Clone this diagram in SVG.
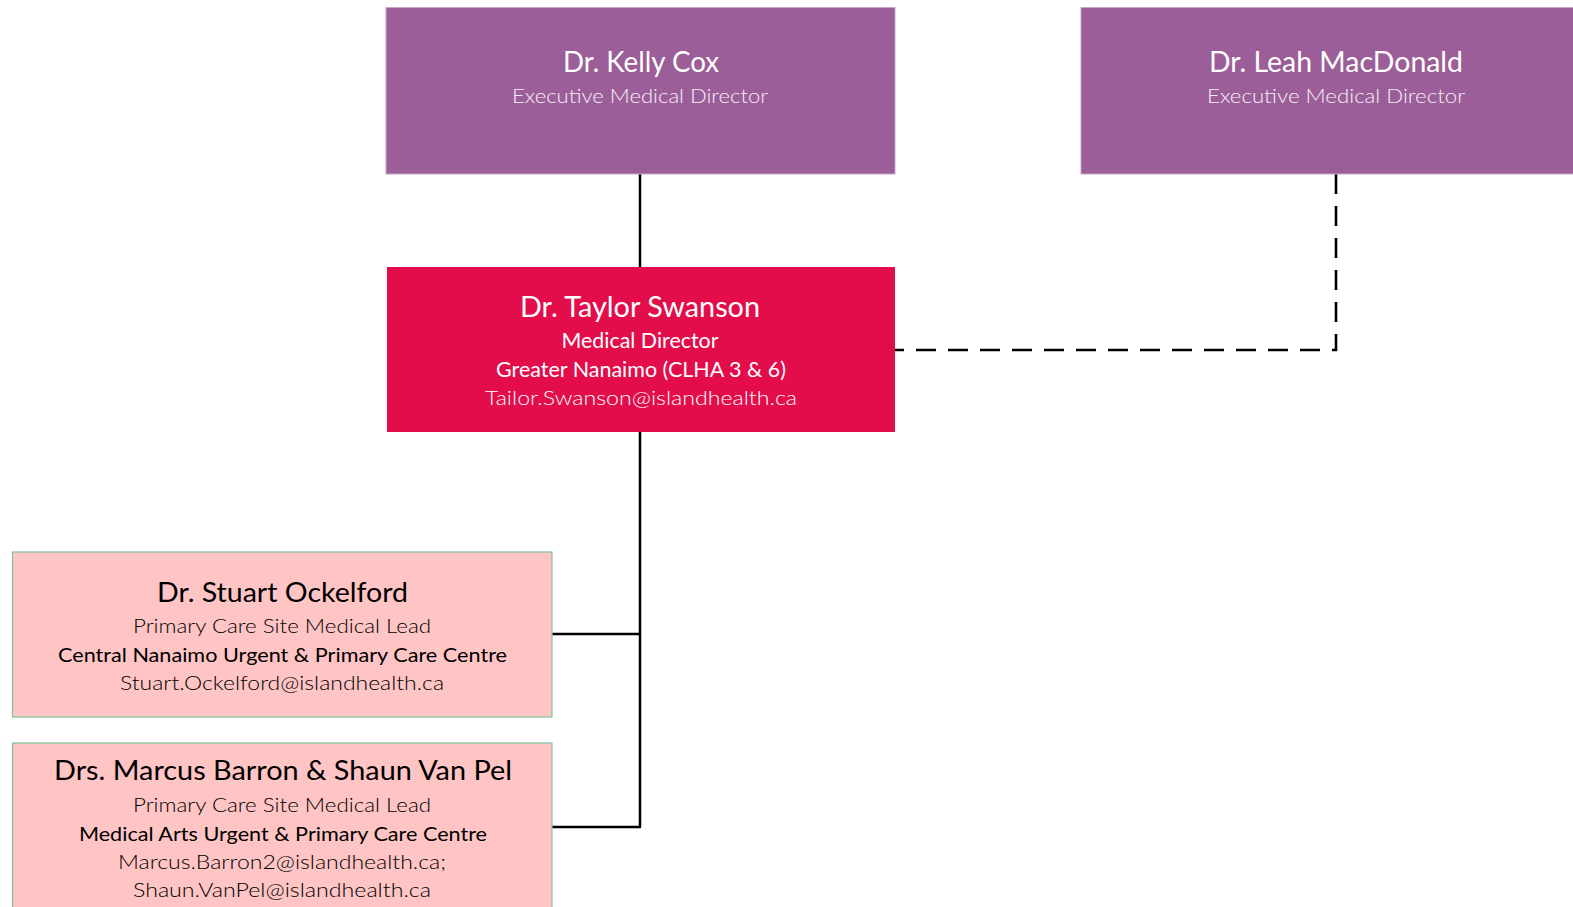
<svg xmlns="http://www.w3.org/2000/svg" width="1573" height="907" viewBox="0 0 1573 907">
<style>
  .exec { fill: #9B5E98; stroke: #C8A6C6; stroke-width: 1; }
  .md { fill: #E30D4C; }
  .lead { fill: #FFC4C4; stroke: #7DC49B; stroke-width: 1.2; }
  text { font-family: Lato, "Open Sans", "Liberation Sans", sans-serif; text-anchor: middle; }
  .w { fill: #FFFFFF; }
  .wl { fill: #F8EEF7; font-weight: 300; }
  .b { fill: #000000; }
  .bl { fill: #000000; font-weight: 300; }
  .solid { fill: none; stroke: #000; stroke-width: 2.5; }
  .dash { fill: none; stroke: #000; stroke-width: 2.6; stroke-dasharray: 20 12; }
</style>
<rect width="1573" height="907" fill="#FFFFFF"/>
<g id="connectors">
  <path class="solid" d="M640 174 V267"/>
  <path class="solid" d="M640 432 V827"/>
  <path class="solid" d="M552 634 H641"/>
  <path class="solid" d="M552 827 H641"/>
  <path class="dash" d="M1336 174 V350 H895"/>
</g>
<g id="kelly-cox">
  <rect class="exec" x="386" y="7.5" width="509" height="166.5"/>
  <text class="w" x="641" y="72" font-size="28" textLength="156" lengthAdjust="spacingAndGlyphs">Dr. Kelly Cox</text>
  <text class="wl" x="640" y="103" font-size="19.5" textLength="256" lengthAdjust="spacingAndGlyphs">Executive Medical Director</text>
</g>
<g id="leah-macdonald">
  <rect class="exec" x="1081" y="7.5" width="509" height="166.5"/>
  <text class="w" x="1336" y="72" font-size="28" textLength="254" lengthAdjust="spacingAndGlyphs">Dr. Leah MacDonald</text>
  <text class="wl" x="1336" y="103" font-size="19.5" textLength="258" lengthAdjust="spacingAndGlyphs">Executive Medical Director</text>
</g>
<g id="taylor-swanson">
  <rect class="md" x="387" y="267" width="508" height="165"/>
  <text class="w" x="640" y="317" font-size="29" textLength="240" lengthAdjust="spacingAndGlyphs">Dr. Taylor Swanson</text>
  <text class="w" x="640" y="347.5" font-size="20.5" textLength="157" lengthAdjust="spacingAndGlyphs">Medical Director</text>
  <text class="w" x="641" y="376.5" font-size="20.5" textLength="290" lengthAdjust="spacingAndGlyphs">Greater Nanaimo (CLHA 3 &amp; 6)</text>
  <text class="w" x="641" y="404.5" font-size="20.5" font-weight="300" textLength="312" lengthAdjust="spacingAndGlyphs">Tailor.Swanson@islandhealth.ca</text>
</g>
<g id="stuart-ockelford">
  <rect class="lead" x="12.5" y="552" width="539.5" height="165"/>
  <text class="b" x="282.5" y="601.5" font-size="26" textLength="251" lengthAdjust="spacingAndGlyphs">Dr. Stuart Ockelford</text>
  <text class="bl" x="282" y="632.5" font-size="19" textLength="298" lengthAdjust="spacingAndGlyphs">Primary Care Site Medical Lead</text>
  <text class="b" x="282.5" y="661.5" font-size="20" textLength="449" lengthAdjust="spacingAndGlyphs">Central Nanaimo Urgent &amp; Primary Care Centre</text>
  <text class="bl" x="282" y="689.5" font-size="19" textLength="324" lengthAdjust="spacingAndGlyphs">Stuart.Ockelford@islandhealth.ca</text>
</g>
<g id="barron-vanpel">
  <rect class="lead" x="12.5" y="743" width="539.5" height="180"/>
  <text class="b" x="283" y="780" font-size="26" textLength="458" lengthAdjust="spacingAndGlyphs">Drs. Marcus Barron &amp; Shaun Van Pel</text>
  <text class="bl" x="282" y="811.5" font-size="19" textLength="298" lengthAdjust="spacingAndGlyphs">Primary Care Site Medical Lead</text>
  <text class="b" x="283" y="840.5" font-size="20" textLength="408" lengthAdjust="spacingAndGlyphs">Medical Arts Urgent &amp; Primary Care Centre</text>
  <text class="bl" x="282" y="869" font-size="19" textLength="328" lengthAdjust="spacingAndGlyphs">Marcus.Barron2@islandhealth.ca;</text>
  <text class="bl" x="282" y="896.5" font-size="19" textLength="298" lengthAdjust="spacingAndGlyphs">Shaun.VanPel@islandhealth.ca</text>
</g>
</svg>
